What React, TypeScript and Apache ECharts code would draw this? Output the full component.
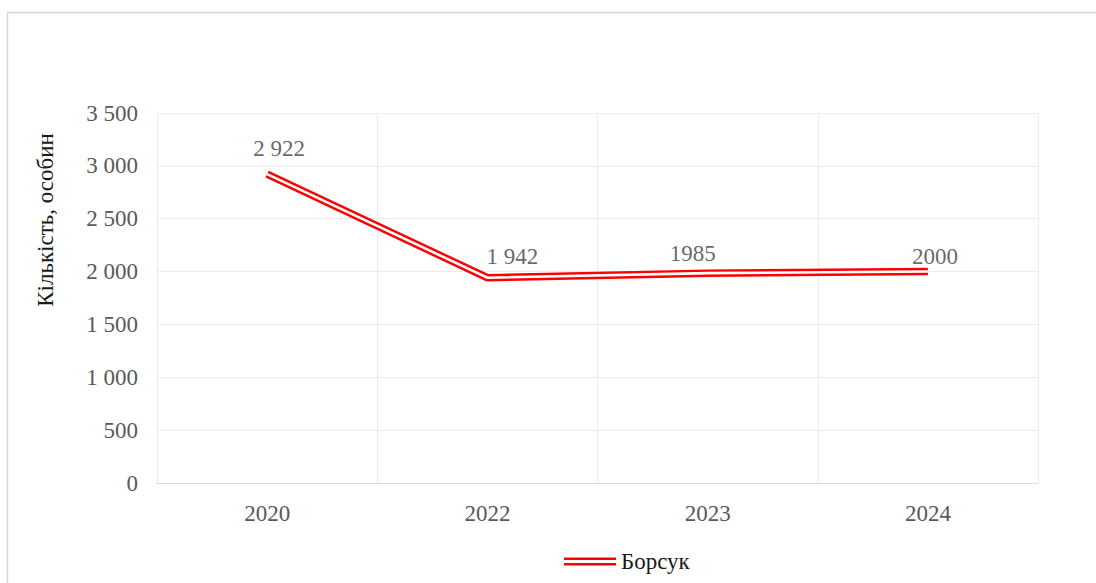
import React, { useEffect, useRef } from "react";
import * as echarts from "echarts";

// Badger population by year
const years = ["2020", "2022", "2023", "2024"];
const badgerCounts = [2922, 1942, 1985, 2000];
const badgerLabels = ["2 922", "1 942", "1985", "2000"];
const labelOffsets: [number, number][] = [
  [12, -8],
  [25, -4],
  [-15, -2],
  [7, 2],
];
const yTicks = { min: 0, max: 3500, interval: 500 };

const SERIF = "'Liberation Serif', 'Times New Roman', serif";
const FONT_SIZE = 23;

const fmtThousands = (v: number) =>
  String(v).replace(/\B(?=(\d{3})+(?!\d))/g, " ");

export default function App() {
  const ref = useRef<HTMLDivElement>(null);

  useEffect(() => {
    if (!ref.current) return;
    const chart = echarts.init(ref.current, undefined, { renderer: "svg" });

    chart.setOption({
      animation: false,
      backgroundColor: "#ffffff",
      grid: { left: 157, top: 113, right: 58, bottom: 100, containLabel: false },
      graphic: [
        {
          type: "rect",
          shape: { x: 7.5, y: 12.5, width: 1200, height: 700 },
          style: { fill: "none", stroke: "#d6d6d6", lineWidth: 1.5 },
          silent: true,
          z: -1,
        },
        {
          type: "text",
          x: 45,
          y: 220,
          rotation: Math.PI / 2,
          style: {
            text: "Кількість, особин",
            font: `${FONT_SIZE}px ${SERIF}`,
            fill: "#1a1a1a",
            align: "center",
            verticalAlign: "middle",
          },
        },
      ],
      legend: {
        data: ["Борсук"],
        left: 559,
        top: 545,
        itemWidth: 52,
        itemHeight: 8,
        itemGap: 6,
        icon: "path://M0,0H52V2.6H0Z M0,5.4H52V8H0Z",
        itemStyle: { color: "#ff0000", opacity: 1 },
        textStyle: { fontFamily: SERIF, fontSize: FONT_SIZE, color: "#1a1a1a" },
      },
      xAxis: {
        type: "category",
        data: years,
        boundaryGap: true,
        axisLine: { show: true, lineStyle: { color: "#d9d9d9", width: 1 } },
        axisTick: { show: false },
        axisLabel: {
          margin: 19,
          fontFamily: SERIF,
          fontSize: FONT_SIZE,
          color: "#595959",
        },
        splitLine: { show: true, lineStyle: { color: "#ebebeb", width: 1 } },
      },
      yAxis: {
        type: "value",
        min: yTicks.min,
        max: yTicks.max,
        interval: yTicks.interval,
        axisLine: { show: false },
        axisTick: { show: false },
        axisLabel: {
          margin: 19,
          fontFamily: SERIF,
          fontSize: FONT_SIZE,
          color: "#595959",
          formatter: (v: number) => fmtThousands(v),
        },
        splitLine: { show: true, lineStyle: { color: "#ebebeb", width: 1 } },
      },
      series: [
        {
          name: "Борсук",
          type: "line",
          data: badgerCounts,
          symbol: "none",
          lineStyle: { color: "#ff0000", width: 7.5, cap: "butt", join: "miter" },
          itemStyle: { color: "#ff0000" },
          z: 2,
        },
        {
          name: "Борсук (центр)",
          type: "line",
          data: badgerCounts,
          symbol: "none",
          silent: true,
          lineStyle: { color: "#ffffff", width: 2.6, cap: "butt", join: "miter" },
          z: 3,
        },
        {
          // value labels placed over each point
          name: "Борсук (підписи)",
          type: "scatter",
          data: badgerCounts.map((v, i) => ({
            value: v,
            label: { offset: labelOffsets[i] },
          })),
          symbol: "circle",
          symbolSize: 2,
          itemStyle: { color: "rgba(0,0,0,0)" },
          silent: true,
          label: {
            show: true,
            position: "top",
            distance: 5,
            fontFamily: SERIF,
            fontSize: FONT_SIZE,
            color: "#404040",
            formatter: (p: any) => badgerLabels[p.dataIndex],
          },
          z: 4,
        },
      ],
    });

    return () => chart.dispose();
  }, []);

  return (
    <div
      ref={ref}
      style={{ position: "fixed", left: 0, top: 0, width: 1096, height: 583 }}
    />
  );
}
